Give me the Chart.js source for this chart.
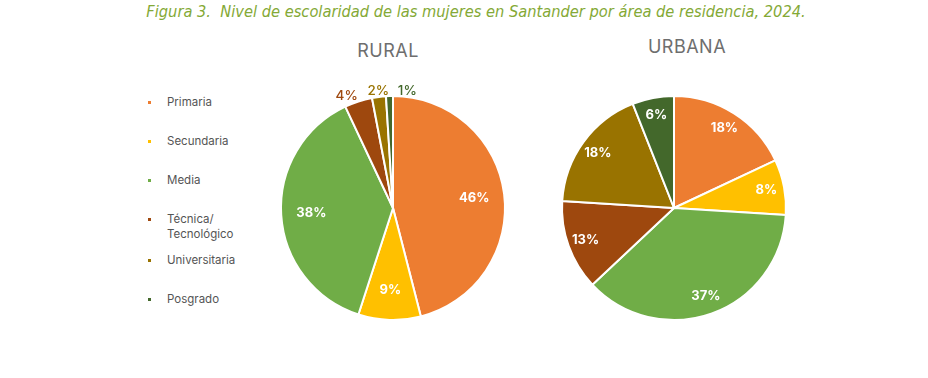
<!DOCTYPE html>
<html>
<head>
<meta charset="utf-8">
<script src="https://cdn.jsdelivr.net/npm/chart.js"></script>
<style>
  html, body { margin: 0; padding: 0; background: #fff; }
  body { width: 928px; height: 378px; position: relative; overflow: hidden; }
  .fig-title {
    position: absolute; left: 0; top: 2px; width: 952px; text-align: center;
    font-family: "Liberation Sans Narrow", "DejaVu Sans Condensed", sans-serif;
    font-style: italic; font-size: 16.3px; color: #84a936;
  }
  .pie-title {
    position: absolute; width: 200px; text-align: center;
    font-family: "Inter", "DejaVu Sans", sans-serif; font-size: 18px;
    color: #6e6e6e; letter-spacing: 0.5px;
  }
  .legend { position: absolute; left: 148px; top: 95px; font-family: "Inter", sans-serif; font-size: 11.5px; color: #555; }
  .legend .item { position: absolute; left: 0; white-space: nowrap; }
  .legend .dot { position: absolute; left: 0; top: 6px; width: 3px; height: 3px; }
  .legend .lbl { position: absolute; left: 19px; top: 0; width: 90px; white-space: normal; line-height: 15px; }
  canvas { position: absolute; }
</style>
</head>
<body>
<div class="fig-title">Figura 3.&nbsp; Nivel de escolaridad de las mujeres en Santander por área de residencia, 2024.</div>
<div class="pie-title" style="left:288px; top:40px;">RURAL</div>
<div class="pie-title" style="left:587px; top:36px;">URBANA</div>
<div class="legend" id="legend"></div>
<div style="position:absolute; left:243px; top:58px; width:300px; height:300px;"><canvas id="rural"></canvas></div>
<div style="position:absolute; left:524px; top:58px; width:300px; height:300px;"><canvas id="urbana"></canvas></div>
<script>
const categories = ["Primaria", "Secundaria", "Media", "Técnica/ Tecnológico", "Universitaria", "Posgrado"];
const rural = [46, 9, 38, 4, 2, 1];
const urbana = [18, 8, 37, 13, 18, 6];
const colors = ["#ed7d31", "#ffc000", "#70ad47", "#9e480e", "#997300", "#43682b"];

// legend (html, left side)
const legendTops = [0, 39, 78, 117, 158, 197];
const legend = document.getElementById("legend");
categories.forEach((c, i) => {
  const item = document.createElement("div");
  item.className = "item";
  item.style.top = legendTops[i] + "px";
  item.innerHTML = `<span class="dot" style="background:${colors[i]}"></span><span class="lbl">${c}</span>`;
  legend.appendChild(item);
});

// draws percent labels on the slices
const sliceLabels = {
  id: "sliceLabels",
  afterDatasetsDraw(chart, args, opts) {
    const ctx = chart.ctx;
    const meta = chart.getDatasetMeta(0);
    const data = chart.data.datasets[0].data;
    meta.data.forEach((arc, i) => {
      const p = arc.getProps(["x", "y", "startAngle", "endAngle", "outerRadius"], true);
      const mid = (p.startAngle + p.endAngle) / 2;
      const outside = data[i] < (opts.minInside || 0);
      const f = outside ? opts.outsideFactor : opts.insideFactor;
      const x = p.x + Math.cos(mid) * p.outerRadius * f + (outside && opts.outsideDx ? opts.outsideDx[i] || 0 : 0);
      const y = p.y + Math.sin(mid) * p.outerRadius * f;
      ctx.save();
      ctx.textAlign = "center";
      ctx.textBaseline = "middle";
      if (outside) {
        ctx.font = "500 13.5px Inter, sans-serif";
        ctx.fillStyle = colors[i];
      } else {
        ctx.font = "700 13px Inter, sans-serif";
        ctx.fillStyle = "#ffffff";
      }
      ctx.fillText(data[i] + "%", x, y);
      ctx.restore();
    });
  }
};

function makePie(id, values, labelOpts) {
  return new Chart(document.getElementById(id), {
    type: "pie",
    data: {
      labels: categories,
      datasets: [{
        data: values,
        backgroundColor: colors,
        borderColor: "#ffffff",
        borderWidth: 2
      }]
    },
    options: {
      responsive: true,
      maintainAspectRatio: false,
      animation: false,
      layout: { padding: 37 },
      plugins: {
        legend: { display: false },
        tooltip: { enabled: false },
        sliceLabels: labelOpts
      }
    },
    plugins: [sliceLabels]
  });
}

makePie("rural", rural, { minInside: 5, insideFactor: 0.73, outsideFactor: 1.05, outsideDx: [0, 0, 0, -10, 0, 18] });
makePie("urbana", urbana, { minInside: 0, insideFactor: 0.84, outsideFactor: 1.1 });
</script>
</body>
</html>
